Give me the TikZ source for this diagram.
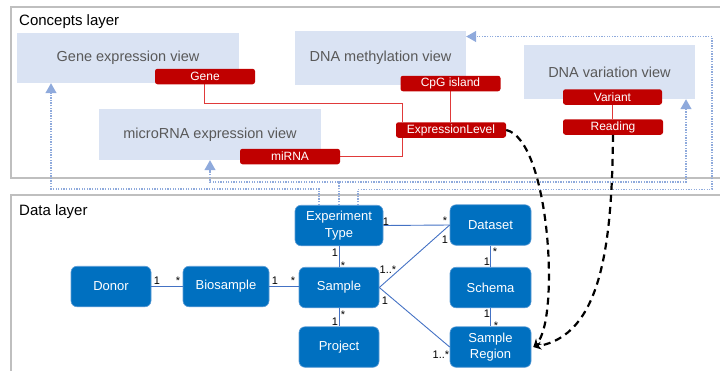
\documentclass[tikz,border=0pt]{standalone}
\usepackage{fontspec}
\setmainfont{Liberation Sans}
\usetikzlibrary{arrows.meta,calc}
\definecolor{cViewFill}{HTML}{DAE3F3}
\definecolor{cViewText}{HTML}{595959}
\definecolor{cKey}{HTML}{C00000}
\definecolor{cKeyLine}{HTML}{E03A3A}
\definecolor{cEntity}{HTML}{0070C0}
\definecolor{cEntityEdge}{HTML}{5B9BD5}
\definecolor{cAssoc}{HTML}{4472C4}
\definecolor{cMap}{HTML}{8FAADC}
\definecolor{cFrame}{HTML}{BFBFBF}
\pgfdeclarelayer{links}
\pgfsetlayers{links,main}
\begin{document}
\begin{tikzpicture}[x=1pt,y=-1pt,
  layerframe/.style={draw=cFrame, line width=1.4pt},
  layertitle/.style={font=\fontsize{15}{18}\selectfont, anchor=base west, inner sep=0},
  view/.style={fill=cViewFill, draw=none, text=cViewText, inner sep=0,
    font=\fontsize{14.5}{17}\selectfont},
  key/.style={fill=cKey, rounded corners=2.5pt, text=white, inner sep=0,
    minimum height=15.5pt, font=\fontsize{12}{14}\selectfont},
  keylink/.style={draw=cKeyLine, line width=0.9pt},
  entity/.style={fill=cEntity, draw=cEntityEdge, line width=0.6pt, rounded corners=6pt,
    text=white, align=center, inner sep=0, minimum width=80pt, minimum height=40.5pt,
    font=\fontsize{13}{16.5}\selectfont},
  assoc/.style={draw=cAssoc, line width=0.9pt},
  mult/.style={font=\fontsize{11}{12}\selectfont, anchor=base, inner sep=0},
  mapping/.style={draw=cMap, line width=1.3pt, dash pattern=on 1.3pt off 1.3pt,
    -{Triangle[width=11pt,length=10pt]}},
  flow/.style={draw=black, line width=2.2pt, dash pattern=on 7pt off 5pt,
    -{Stealth[length=8pt,width=8pt]}}]
\useasboundingbox (0,0) rectangle (720,370);

% layer frames
\draw[layerframe] (11,7) rectangle (740,178);
\draw[layerframe] (11,195) rectangle (740,390);
\node[layertitle] (ctitle) at (19,25) {Concepts layer};
\node[layertitle] (dtitle) at (19,215.5) {Data layer};

% concept views
\node[view, minimum width=222pt, minimum height=50pt] (gev) at (128,58) {Gene expression view};
\node[view, minimum width=222pt, minimum height=51pt] (mev) at (210,134.5) {microRNA expression view};
\node[view, minimum width=171pt, minimum height=54pt] (dmv) at (380.5,58) {DNA methylation view};
\node[view, minimum width=171pt, minimum height=54pt] (dvv) at (609.5,72) {DNA variation view};

% shared keys
\node[key, minimum width=100pt] (gene) at (205,76.5) {Gene};
\node[key, minimum width=100pt] (mirna) at (290,156.5) {miRNA};
\node[key, minimum width=100pt] (cpg) at (450.5,83.5) {CpG island};
\node[key, minimum width=110pt] (exprlevel) at (451,130) {ExpressionLevel};
\node[key, minimum width=99pt] (variant) at (612.5,97) {Variant};
\node[key, minimum width=100pt] (reading) at (613,127) {Reading};

\begin{pgfonlayer}{links}
  \draw[keylink] ([xshift=-1pt]gene.south) -- ++(0,19) -| ([xshift=7pt]exprlevel.north west);
  \draw[keylink] (mirna.east) -| ([xshift=7pt]exprlevel.south west);
  \draw[keylink] (cpg.south) -- (cpg.south |- exprlevel.north);
  \draw[keylink] (variant.south) -- (variant.south |- reading.north);
\end{pgfonlayer}

% data entities
\node[entity, minimum width=88pt] (exptype) at (339,225.5) {Experiment\\Type};
\node[entity, minimum width=81pt] (dataset) at (490.5,225) {Dataset};
\node[entity] (donor) at (111,286.5) {Donor};
\node[entity, minimum width=86pt] (biosample) at (226,286.5) {Biosample};
\node[entity] (sample) at (339,287.5) {Sample};
\node[entity, minimum width=81pt] (schema) at (490.5,287.5) {Schema};
\node[entity] (project) at (339,347) {Project};
\node[entity, minimum width=81pt] (sregion) at (490.5,347) {Sample\\Region};

% associations
\draw[assoc] (donor.east) -- (biosample.west);
\draw[assoc] (biosample.east) -- (biosample.east -| sample.west);
\draw[assoc] (exptype.south) -- (sample.north);
\draw[assoc] (sample.south) -- (project.north);
\draw[assoc] (exptype.east) -- (dataset.west);
\draw[assoc] (sample.east) -- (dataset.west);
\draw[assoc] (sample.east) -- (sregion.west);
\draw[assoc] (dataset.south) -- (schema.north);
\draw[assoc] (schema.south) -- (sregion.north);

% multiplicities
\node[mult] (m1) at (157,284.5) {1};
\node[mult] (m2) at (178,284.5) {*};
\node[mult] (m3) at (275,284.5) {1};
\node[mult] (m4) at (293,284.5) {*};
\node[mult] (m5) at (335,256) {1};
\node[mult] (m6) at (343,269.5) {*};
\node[mult] (m7) at (343,318) {*};
\node[mult] (m8) at (335,325.5) {1};
\node[mult] (m9) at (386,225.5) {1};
\node[mult] (m10) at (445,224) {*};
\node[mult] (m11) at (445,243.5) {1};
\node[mult] (m12) at (388,273) {1..*};
\node[mult] (m13) at (385,304.5) {1};
\node[mult] (m14) at (441,358) {1..*};
\node[mult] (m15) at (495,255) {*};
\node[mult] (m16) at (487,265.5) {1};
\node[mult] (m17) at (487,317.5) {1};
\node[mult] (m18) at (496,329) {*};

% mappings from the data layer to the views
\coordinate (turn) at (712,36.5);
\draw[mapping] ([xshift=-20pt]exptype.north) -- ++(0,-16) -| ([xshift=-77pt]gev.south);
\draw[mapping] (exptype.north) -- ++(0,-23) -| (mev.south);
\draw[mapping] (exptype.north) -- ++(0,-23) -| ([xshift=76.5pt]dvv.south);
\draw[mapping] ([xshift=19pt]exptype.north) -- ++(0,-15.5) -| (turn) -- (turn -| dmv.east);

% key flows into sample regions
\draw[flow] (exprlevel.east) .. controls (550,140) and (560,320) .. ([xshift=2pt]sregion.east);
\draw[flow] (reading.south) .. controls (612,250) and (600,335) .. ([xshift=2pt]sregion.east);
\end{tikzpicture}
\end{document}
